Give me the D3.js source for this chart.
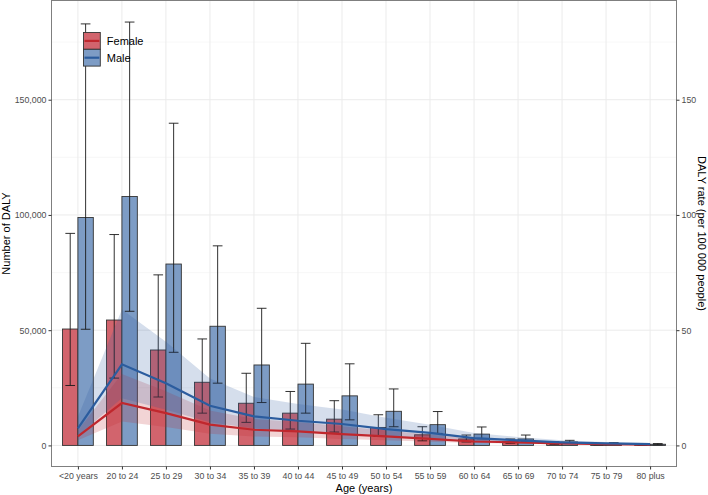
<!DOCTYPE html>
<html>
<head>
<meta charset="utf-8">
<script src="https://cdn.jsdelivr.net/npm/d3@7"></script>
<style>
  body { margin: 0; background: #fff; }
  svg { display: block; font-family: "Liberation Sans", Arial, sans-serif; }
</style>
</head>
<body>
<svg id="chart"></svg>
<script>
const WIDTH = 708;
const HEIGHT = 495;

// Panel edges.
const PANEL_LEFT = 51.5;
const PANEL_RIGHT = 676.5;
const PANEL_TOP = 0.5;
const PANEL_BOTTOM = 466.5;

const ages = ['<20 years', '20 to 24', '25 to 29', '30 to 34', '35 to 39', '40 to 44',
  '45 to 49', '50 to 54', '55 to 59', '60 to 64', '65 to 69', '70 to 74', '75 to 79', '80 plus'];

// Number of DALY (bars with uncertainty intervals).
const femaleDaly = [50500, 54400, 41400, 27400, 18300, 14000, 11400, 7800, 4600, 2800, 1700, 1000, 450, 200];
const femaleDalyLow = [26000, 29200, 21000, 14000, 10000, 7100, 5800, 3900, 2000, 1500, 900, 500, 250, 100];
const femaleDalyHigh = [92000, 91500, 74000, 46200, 31300, 23400, 19400, 13300, 8100, 4500, 2800, 1600, 800, 400];
const maleDaly = [98900, 108000, 78700, 51700, 34900, 26600, 21500, 14800, 9000, 4900, 2800, 1500, 700, 500];
const maleDalyLow = [50400, 58200, 40400, 27000, 18600, 14000, 11100, 8100, 5200, 2900, 1600, 900, 400, 250];
const maleDalyHigh = [182900, 183700, 139800, 86600, 59500, 44300, 35400, 24500, 14700, 8000, 4500, 2200, 1200, 800];

// DALY rate per 100 000 people (lines with ribbons).
const femaleRate = [3.9, 18.4, 14.0, 9.0, 6.8, 6.1, 4.9, 3.9, 2.8, 1.7, 1.3, 0.9, 0.6, 0.3];
const femaleRateLow = [2.2, 10.4, 8.0, 5.1, 3.9, 3.5, 2.8, 2.2, 1.6, 1.0, 0.75, 0.5, 0.35, 0.17];
const femaleRateHigh = [6.6, 31.0, 23.5, 15.2, 11.5, 10.2, 8.3, 6.5, 4.7, 2.9, 2.2, 1.5, 1.0, 0.5];
const maleRate = [7.4, 35.2, 27.0, 17.2, 12.6, 10.7, 9.3, 7.1, 5.4, 3.2, 2.2, 1.3, 0.9, 0.6];
const maleRateLow = [4.2, 20.5, 15.5, 10.0, 7.3, 6.2, 5.4, 4.1, 3.1, 1.9, 1.3, 0.8, 0.5, 0.35];
const maleRateHigh = [12.4, 59.0, 45.0, 29.0, 21.0, 18.0, 15.6, 12.0, 9.0, 5.4, 3.7, 2.2, 1.5, 1.0];

const leftTicks = [0, 50000, 100000, 150000];
const rightTicks = [0, 50, 100, 150];

const sexes = [
  {name: 'Female', bar: '#d2646d', line: '#c0272d', daly: femaleDaly, low: femaleDalyLow, high: femaleDalyHigh,
    rate: femaleRate, rateLow: femaleRateLow, rateHigh: femaleRateHigh},
  {name: 'Male', bar: '#7d9cc5', line: '#2b5c9e', daly: maleDaly, low: maleDalyLow, high: maleDalyHigh,
    rate: maleRate, rateLow: maleRateLow, rateHigh: maleRateHigh}
];

const svg = d3.select('#chart').attr('width', WIDTH).attr('height', HEIGHT);

const xScale = d3.scalePoint().domain(ages).range([PANEL_LEFT, PANEL_RIGHT]).padding(0.6);
const step = xScale.step();
const dodge = d3.scaleBand().domain(sexes.map(s => s.name)).range([-0.35 * step, 0.35 * step]);

const yScale = d3.scaleLinear().domain([-9150, 193050]).range([PANEL_BOTTOM, PANEL_TOP]);
// Rate axis shares the same pixel positions, 1 per 100 000 = 1000 DALY.
const yRate = d3.scaleLinear().domain([-9.15, 193.05]).range([PANEL_BOTTOM, PANEL_TOP]);

// Grid lines (major and minor), theme_bw style.
const grid = svg.append('g');
const minorTicks = [25000, 75000, 125000, 175000];
grid.selectAll('.minor').data(minorTicks).join('line')
  .attr('x1', PANEL_LEFT).attr('x2', PANEL_RIGHT)
  .attr('y1', d => yScale(d)).attr('y2', d => yScale(d))
  .attr('stroke', '#f2f2f2').attr('stroke-width', 0.6);
grid.selectAll('.major').data(leftTicks).join('line')
  .attr('x1', PANEL_LEFT).attr('x2', PANEL_RIGHT)
  .attr('y1', d => yScale(d)).attr('y2', d => yScale(d))
  .attr('stroke', '#ebebeb').attr('stroke-width', 1);
grid.selectAll('.vert').data(ages).join('line')
  .attr('x1', d => xScale(d)).attr('x2', d => xScale(d))
  .attr('y1', PANEL_TOP).attr('y2', PANEL_BOTTOM)
  .attr('stroke', '#ebebeb').attr('stroke-width', 1);

// Bars.
for (const s of sexes) {
  svg.append('g').selectAll('rect').data(ages).join('rect')
    .attr('x', d => xScale(d) + dodge(s.name))
    .attr('width', dodge.bandwidth())
    .attr('y', (d, i) => yScale(s.daly[i]))
    .attr('height', (d, i) => yScale(0) - yScale(s.daly[i]))
    .attr('fill', s.bar)
    .attr('stroke', '#333333')
    .attr('stroke-width', 0.9);
}

// Error bars.
const capHalf = 0.11 * step;
for (const s of sexes) {
  const g = svg.append('g').attr('stroke', '#1a1a1a').attr('stroke-width', 0.9);
  const cx = d => xScale(d) + dodge(s.name) + dodge.bandwidth() / 2;
  g.selectAll('.v').data(ages).join('line')
    .attr('x1', cx).attr('x2', cx)
    .attr('y1', (d, i) => yScale(s.low[i])).attr('y2', (d, i) => yScale(s.high[i]));
  g.selectAll('.top').data(ages).join('line')
    .attr('x1', d => cx(d) - capHalf).attr('x2', d => cx(d) + capHalf)
    .attr('y1', (d, i) => yScale(s.high[i])).attr('y2', (d, i) => yScale(s.high[i]));
  g.selectAll('.bottom').data(ages).join('line')
    .attr('x1', d => cx(d) - capHalf).attr('x2', d => cx(d) + capHalf)
    .attr('y1', (d, i) => yScale(s.low[i])).attr('y2', (d, i) => yScale(s.low[i]));
}

// Ribbons.
for (const s of sexes) {
  const area = d3.area()
    .x(d => xScale(d))
    .y0((d, i) => yRate(s.rateLow[i]))
    .y1((d, i) => yRate(s.rateHigh[i]));
  svg.append('path').datum(ages)
    .attr('d', area)
    .attr('fill', s.line)
    .attr('fill-opacity', 0.2);
}

// Rate lines.
for (const s of sexes) {
  const line = d3.line()
    .x(d => xScale(d))
    .y((d, i) => yRate(s.rate[i]));
  svg.append('path').datum(ages)
    .attr('d', line)
    .attr('fill', 'none')
    .attr('stroke', s.line)
    .attr('stroke-width', 2.2);
}

// Panel border.
svg.append('rect')
  .attr('x', PANEL_LEFT).attr('y', PANEL_TOP)
  .attr('width', PANEL_RIGHT - PANEL_LEFT).attr('height', PANEL_BOTTOM - PANEL_TOP)
  .attr('fill', 'none').attr('stroke', '#7f7f7f').attr('stroke-width', 1);

// Axes.
function styleAxis(g) {
  g.select('.domain').remove();
  g.selectAll('.tick line').attr('stroke', '#333333');
  g.selectAll('.tick text').attr('fill', '#4d4d4d').attr('font-size', 8.8);
}

svg.append('g')
  .attr('transform', `translate(${PANEL_LEFT},0)`)
  .call(d3.axisLeft(yScale).tickValues(leftTicks).tickSize(3).tickPadding(2).tickFormat(d3.format(',')))
  .call(styleAxis);

svg.append('g')
  .attr('transform', `translate(${PANEL_RIGHT},0)`)
  .call(d3.axisRight(yRate).tickValues(rightTicks).tickSize(3).tickPadding(2))
  .call(styleAxis);

svg.append('g')
  .attr('transform', `translate(0,${PANEL_BOTTOM})`)
  .call(d3.axisBottom(xScale).tickSize(3).tickPadding(3))
  .call(styleAxis);

// Axis titles.
svg.append('text')
  .attr('transform', `translate(10,${(PANEL_TOP + PANEL_BOTTOM) / 2}) rotate(-90)`)
  .attr('text-anchor', 'middle')
  .attr('font-size', 11)
  .text('Number of DALY');

svg.append('text')
  .attr('transform', `translate(698,${(PANEL_TOP + PANEL_BOTTOM) / 2}) rotate(90)`)
  .attr('text-anchor', 'middle')
  .attr('font-size', 11)
  .text('DALY rate (per 100 000 people)');

svg.append('text')
  .attr('x', (PANEL_LEFT + PANEL_RIGHT) / 2)
  .attr('y', 492)
  .attr('text-anchor', 'middle')
  .attr('font-size', 11)
  .text('Age (years)');

// Legend.
const legend = svg.append('g').attr('transform', 'translate(83.5,32.5)');
const KEY = 16.8;
sexes.forEach((s, i) => {
  const g = legend.append('g').attr('transform', `translate(0,${i * KEY})`);
  g.append('rect').attr('width', KEY).attr('height', KEY)
    .attr('fill', s.bar).attr('stroke', '#333333').attr('stroke-width', 0.9);
  g.append('line').attr('x1', 1).attr('x2', KEY - 1)
    .attr('y1', KEY / 2).attr('y2', KEY / 2)
    .attr('stroke', s.line).attr('stroke-width', 2.2);
  g.append('text').attr('x', KEY + 6.5).attr('y', KEY / 2)
    .attr('dy', '0.35em').attr('font-size', 11).text(s.name);
});
</script>
</body>
</html>
